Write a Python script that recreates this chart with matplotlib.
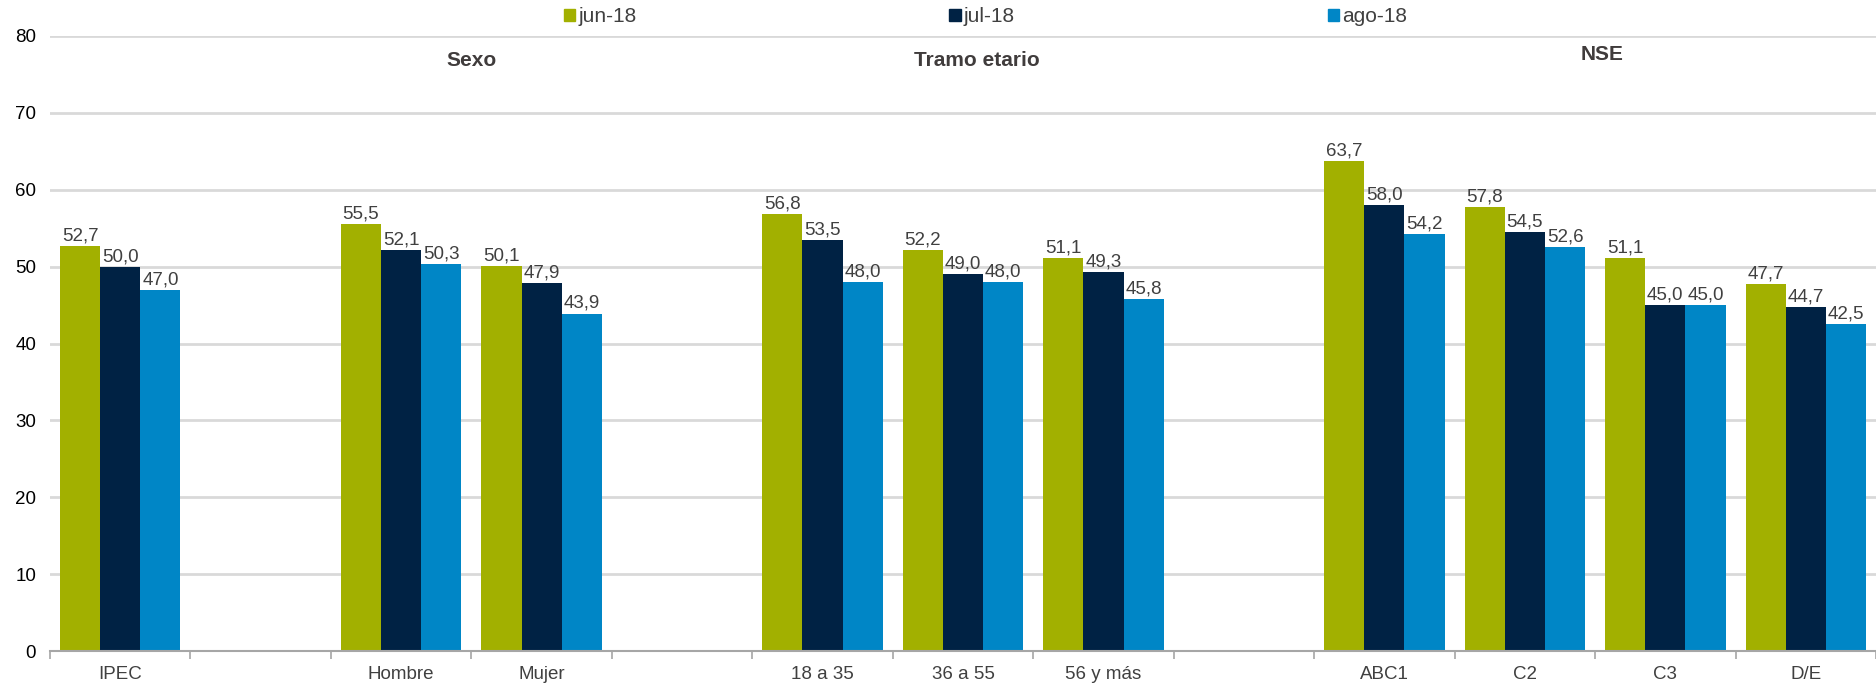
import numpy as np
import matplotlib
matplotlib.use('Agg')
import matplotlib.pyplot as plt
from matplotlib.patches import Rectangle

plt.rcParams['font.family'] = ['Liberation Sans', 'DejaVu Sans']

# categories ('' = empty spacer slot between groups)
categories = ['IPEC', '', 'Hombre', 'Mujer', '', '18 a 35', '36 a 55', '56 y más',
              '', 'ABC1', 'C2', 'C3', 'D/E']
series = ['jun-18', 'jul-18', 'ago-18']
jun18 = [52.7, None, 55.5, 50.1, None, 56.8, 52.2, 51.1, None, 63.7, 57.8, 51.1, 47.7]
jul18 = [50.0, None, 52.1, 47.9, None, 53.5, 49.0, 49.3, None, 58.0, 54.5, 45.0, 44.7]
ago18 = [47.0, None, 50.3, 43.9, None, 48.0, 48.0, 45.8, None, 54.2, 52.6, 45.0, 42.5]
groups = ['Sexo', 'Tramo etario', 'NSE']
group_pos = [2.5, 6.1, 10.55]
group_y = [76.8, 76.8, 77.6]

colors = ['#A2B000', '#002244', '#0086C6']
text_col = '#404040'

fig = plt.figure(figsize=(18.76, 6.83), dpi=100)
ax = fig.add_axes([50 / 1876, 1 - 651 / 683, 1 - 50 / 1876, (651 - 36) / 683])

x = np.arange(len(categories))
w = 0.286
for i, (vals, col) in enumerate(zip([jun18, jul18, ago18], colors)):
    v = np.array([np.nan if a is None else a for a in vals], dtype=float)
    xs = x + (i - 1) * w
    ax.bar(xs, v, width=w, color=col, label=series[i], zorder=3)
    for xi, vi in zip(xs, v):
        if np.isnan(vi):
            continue
        ax.annotate(f'{vi:.1f}'.replace('.', ','), (xi, vi), xytext=(0, 4),
                    textcoords='offset points', ha='center', va='baseline',
                    fontsize=13.5, color=text_col, zorder=4)

for g, gx, gy in zip(groups, group_pos, group_y):
    ax.text(gx, gy, g, ha='center', va='center', fontsize=15,
            fontweight='bold', color='#403C3C')

ax.set_xlim(-0.5, 12.45)
ax.set_ylim(0, 80)
ax.set_yticks(range(0, 81, 10))
ax.yaxis.grid(True, color='#D9D9D9', linewidth=2, zorder=0)
ax.tick_params(axis='y', length=0, pad=10, labelsize=13.5, labelcolor='black')

ax.set_xticks(x)
ax.set_xticklabels(categories)
ax.set_xticks(np.arange(-0.5, 12.6, 1), minor=True)
ax.tick_params(axis='x', which='major', length=0, pad=11, labelsize=13.5,
               labelcolor=text_col)
ax.tick_params(axis='x', which='minor', length=6, width=1.2, color='#A6A6A6')

for s in ['top', 'right', 'left']:
    ax.spines[s].set_visible(False)
ax.spines['bottom'].set_color('#A6A6A6')
ax.spines['bottom'].set_linewidth(1.5)
ax.spines['bottom'].set_zorder(5)

handles = [Rectangle((0, 0), 1, 1, color=c) for c in colors]
fig.legend(handles, series, loc='center left', bbox_to_anchor=(564 / 1876, 1 - 17 / 683),
           ncol=3, frameon=False, fontsize=15, handlelength=0.55, handleheight=0.55,
           handletextpad=0.15, columnspacing=15.0, borderpad=0, borderaxespad=0,
           labelcolor=text_col)

fig.savefig('out.png', dpi=100)
